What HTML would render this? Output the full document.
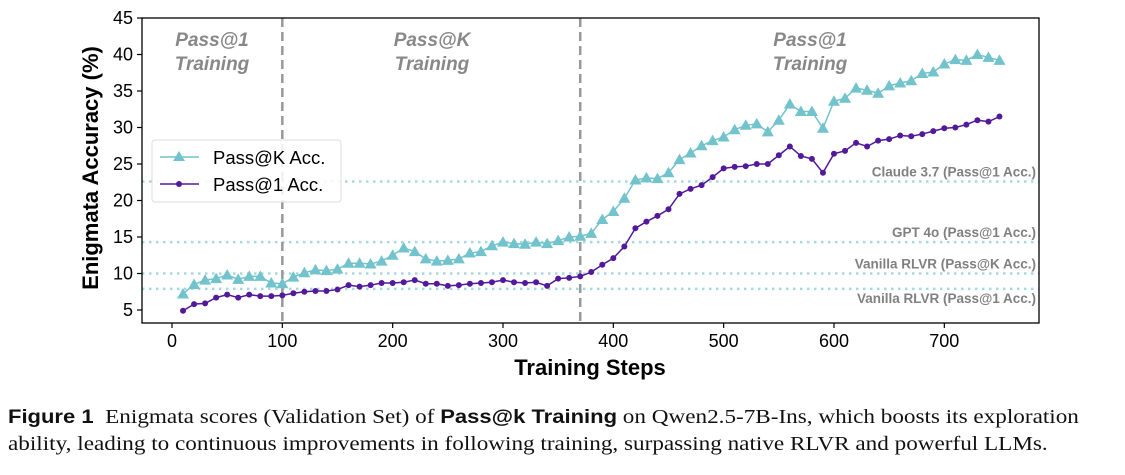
<!DOCTYPE html>
<html><head><meta charset="utf-8">
<style>
body{margin:0;background:#fff;width:1125px;height:475px;overflow:hidden;}
svg{position:absolute;left:0;top:0;}
.cap{position:absolute;left:8px;top:404px;font-family:"Liberation Serif",serif;font-size:20px;line-height:26px;color:#111;white-space:nowrap;transform-origin:0 0;transform:scaleX(1.158);}
.cap b{font-family:"Liberation Sans",sans-serif;font-size:19px;}
</style></head><body>
<svg id="chart" width="1125" height="400"></svg>
<div class="cap"><b>Figure 1</b>&nbsp; Enigmata scores (Validation Set) of <b>Pass@k Training</b> on Qwen2.5-7B-Ins, which boosts its exploration<br>ability, leading to continuous improvements in following training, surpassing native RLVR and powerful LLMs.</div>
<script>
const steps=[10,20,30,40,50,60,70,80,90,100,110,120,130,140,150,160,170,180,190,200,210,220,230,240,250,260,270,280,290,300,310,320,330,340,350,360,370,380,390,400,410,420,430,440,450,460,470,480,490,500,510,520,530,540,550,560,570,580,590,600,610,620,630,640,650,660,670,680,690,700,710,720,730,740,750];
const passK=[7.2,8.5,9.1,9.3,9.8,9.2,9.6,9.6,8.7,8.6,9.5,10.1,10.5,10.4,10.6,11.4,11.4,11.3,11.7,12.5,13.5,13,12,11.7,11.8,12,12.8,13,13.8,14.3,14.1,14,14.3,14.1,14.5,15,15.1,15.5,17.4,18.5,20.3,22.8,23.1,23,23.8,25.6,26.5,27.5,28.2,28.7,29.7,30.3,30.5,29.4,31,33.2,32.2,32.2,29.9,33.6,34,35.4,35.1,34.7,35.7,36.1,36.4,37.4,37.6,38.7,39.3,39.2,40,39.6,39.2];
const pass1=[4.9,5.8,5.9,6.7,7.1,6.7,7.1,6.9,6.9,7.0,7.3,7.5,7.6,7.6,7.8,8.4,8.2,8.4,8.7,8.7,8.8,9.1,8.6,8.6,8.3,8.4,8.6,8.7,8.8,9.1,8.8,8.7,8.8,8.3,9.3,9.4,9.6,10.2,11.2,12.1,13.7,16.2,17.1,17.9,18.8,20.9,21.6,22.1,23.2,24.4,24.6,24.7,25.0,25.0,26.2,27.4,26.1,25.7,23.8,26.4,26.8,27.9,27.4,28.2,28.4,28.9,28.8,29.1,29.5,29.9,30.0,30.4,31.0,30.8,31.5];
const refNames=["Claude 3.7 (Pass@1 Acc.)","GPT 4o (Pass@1 Acc.)","Vanilla RLVR (Pass@K Acc.)","Vanilla RLVR (Pass@1 Acc.)"];
const refVals=[22.6,14.3,10,7.9];
const xTicks=[0,100,200,300,400,500,600,700];
const yTicks=[5,10,15,20,25,30,35,40,45];
const phaseBounds=[100,370];

const svg=document.getElementById('chart');
const NS='http://www.w3.org/2000/svg';
const L=142,R=1039,T=18,B=323;
const X=v=>172+v*1.1033;
const Y=v=>310-(v-5)*7.3;
function mk(tag,attrs,txt){const e=document.createElementNS(NS,tag);for(const k in attrs)e.setAttribute(k,attrs[k]);if(txt!==undefined)e.textContent=txt;svg.appendChild(e);return e;}

const labelOff=[-5,-5,-5,14];
refVals.forEach((v,i)=>{
  const l=mk('line',{x1:L,x2:R,y1:Y(v),y2:Y(v),stroke:'#a8d8df','stroke-width':2.5,'stroke-dasharray':'2.5 4.5'});
  
  
  const t=mk('text',{x:1036,y:Y(v)+labelOff[i],'text-anchor':'end','font-family':'Liberation Sans, sans-serif','font-size':13.5,'font-weight':'bold',fill:'#808080'},refNames[i]);
  
  
});
phaseBounds.forEach((s,i)=>{
  const l=mk('line',{x1:X(s),x2:X(s),y1:T,y2:B,stroke:'#999','stroke-width':2.5,'stroke-dasharray':'9 5'});
  
  
});
[[212,'Pass@1'],[432,'Pass@K'],[810,'Pass@1']].forEach((p,i)=>{
  const t=mk('text',{x:p[0],y:46,'text-anchor':'middle','font-family':'Liberation Sans, sans-serif','font-size':19,'font-weight':'bold','font-style':'italic',fill:'#888'},p[1]);
  
  
  const t2=mk('text',{x:p[0],y:70,'text-anchor':'middle','font-family':'Liberation Sans, sans-serif','font-size':19,'font-weight':'bold','font-style':'italic',fill:'#888'},'Training');
  
  
});
function series(vals,color,name,tri){
  const pts=steps.map((s,i)=>X(s)+','+Y(vals[i])).join(' ');
  const pl=mk('polyline',{points:pts,fill:'none',stroke:color,'stroke-width':1.5});
  
  
  steps.forEach((s,i)=>{
    const x=X(s),y=Y(vals[i]);
    let m;
    if(tri) m=mk('polygon',{points:`${x},${y-6} ${x-6},${y+4.5} ${x+6},${y+4.5}`,fill:color});
    else m=mk('circle',{cx:x,cy:y,r:3,fill:color});
    
    
  });
}
series(passK,'#72c3cb','passk',true);
series(pass1,'#52199a','pass1',false);
const fr=mk('rect',{x:L,y:T,width:R-L,height:B-T,fill:'none',stroke:'#000','stroke-width':1.3});


xTicks.forEach(v=>{
  mk('line',{x1:X(v),x2:X(v),y1:B,y2:B+5,stroke:'#000','stroke-width':1.2});
  const t=mk('text',{x:X(v),y:B+24,'text-anchor':'middle','font-family':'Liberation Sans, sans-serif','font-size':18,fill:'#000'},v);
  
  
});
yTicks.forEach(v=>{
  mk('line',{x1:L-5,x2:L,y1:Y(v),y2:Y(v),stroke:'#000','stroke-width':1.2});
  const t=mk('text',{x:L-9,y:Y(v)+6,'text-anchor':'end','font-family':'Liberation Sans, sans-serif','font-size':18,fill:'#000'},v);
  
  
});
const xt=mk('text',{x:590,y:375,'text-anchor':'middle','font-family':'Liberation Sans, sans-serif','font-size':22,'font-weight':'bold'},'Training Steps');


const yt=mk('text',{x:0,y:0,'text-anchor':'middle','font-family':'Liberation Sans, sans-serif','font-size':22,'font-weight':'bold',transform:'translate(98,168) rotate(-90)'},'Enigmata Accuracy (%)');


const lg=mk('rect',{x:152,y:140,width:189,height:62,rx:3,fill:'#fff','fill-opacity':0.85,stroke:'#ddd'});


mk('line',{x1:160,x2:199,y1:157,y2:157,stroke:'#72c3cb','stroke-width':1.5});
mk('polygon',{points:'179,151 173,161 185,161',fill:'#72c3cb'});
const l1=mk('text',{x:213,y:164,'font-family':'Liberation Sans, sans-serif','font-size':18.5},'Pass@K Acc.');


mk('line',{x1:160,x2:199,y1:184,y2:184,stroke:'#52199a','stroke-width':1.5});
mk('circle',{cx:179,cy:184,r:3,fill:'#52199a'});
const l2=mk('text',{x:213,y:191,'font-family':'Liberation Sans, sans-serif','font-size':18.5},'Pass@1 Acc.');


</script>
</body></html>
